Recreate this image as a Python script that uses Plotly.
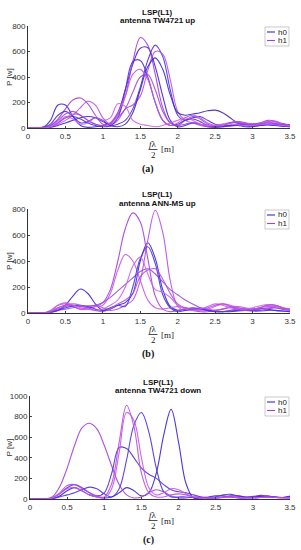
import plotly.graph_objects as go

x_vals = [round(i * 0.1, 1) for i in range(36)]

# ---- (a) antenna TW4721 up ----
a_h0_1 = [0,0,5,60,180,180,90,20,5,10, 20,40,120,300,500,625,630,480,250,60, 10,20,40,30,10,5,10,20,20,10, 10,20,25,20,15,10]
a_h1_1 = [0,0,5,20,70,150,220,235,190,100, 30,40,100,250,520,710,650,420,160,40, 20,60,90,70,30,10,20,40,50,40, 30,40,60,55,35,20]
a_h0_2 = [0,0,0,10,40,80,90,70,40,20, 10,15,30,60,150,320,530,650,560,300, 100,60,80,90,60,30,20,20,30,30, 20,20,25,30,30,25]
a_h1_2 = [0,0,0,10,30,60,100,160,210,180, 80,30,60,150,180,250,450,600,580,380, 130,60,40,20,10,10,20,40,50,30, 20,30,50,50,30,20]
a_h0_3 = [0,0,5,30,100,130,90,40,50,80, 60,20,80,300,520,530,400,200,60,20, 30,60,70,50,20,10,10,15,20,25, 30,30,25,20,15,10]
a_h0_4 = [0,0,0,5,20,40,60,80,90,80, 50,20,10,30,120,300,480,550,460,260, 120,100,110,120,135,140,120,80,40,20, 15,20,30,30,20,15]
a_h1_3 = [0,0,0,10,40,80,110,100,60,30, 20,40,120,250,420,460,380,200,60,20, 40,80,100,80,40,20,20,40,50,40, 30,35,45,40,30,20]
a_h1_4 = [0,0,5,20,60,110,130,100,60,30, 20,30,80,150,280,400,420,300,130,40, 20,30,40,30,20,20,30,40,40,30, 25,30,40,35,25,20]
a_h1_5 = [0,0,0,10,50,90,70,30,40,80, 60,80,190,170,60,30,20,10,20,40, 60,80,60,30,20,20,30,30,25,20, 20,25,30,25,20,15]

# ---- (b) antenna ANN-MS up ----
b_h1_1 = [0,0,0,10,30,50,60,50,40,50, 80,180,400,650,770,700,420,130,30,10, 20,30,20,10,10,20,30,40,40,30, 20,30,40,40,30,20]
b_h1_2 = [0,0,0,20,60,70,50,30,40,60, 40,20,30,60,100,250,560,790,620,250, 50,20,30,40,30,20,30,50,50,40, 30,40,60,60,40,20]
b_h1_3 = [0,0,0,10,40,60,50,30,30,50, 60,150,330,450,400,250,100,40,30,40, 50,40,30,20,30,50,70,60,40,30, 30,40,50,50,40,30]
b_h1_4 = [0,0,0,10,20,30,40,50,55,60, 80,120,170,220,270,320,340,300,240,180, 140,100,70,40,20,10,10,20,30,30, 20,20,30,40,30,20]
b_h0_1 = [0,0,0,5,20,60,130,185,150,70, 20,30,60,80,150,400,540,420,180,50, 20,30,40,30,20,15,10,10,15,20, 25,35,30,20,15,10]
b_h0_2 = [0,0,0,5,20,40,55,60,50,30, 20,40,60,50,200,420,510,380,140,40, 10,20,30,30,20,10,10,15,20,20, 15,15,20,20,15,10]
b_h1_5 = [0,0,0,10,60,80,60,40,30,20, 30,60,100,200,360,430,300,180,160,120, 60,30,20,30,50,70,60,40,30,30, 40,55,65,60,40,20]
b_h1_6 = [0,0,0,10,40,60,70,60,40,20, 10,30,70,100,150,280,330,340,260,150, 70,40,30,30,40,60,70,50,30,20, 30,40,60,60,40,30]

# ---- (c) antenna TW4721 down ----
c_h0_1 = [0,0,0,5,30,80,110,80,40,20, 10,20,60,110,80,30,60,250,620,870, 550,150,10,10,20,30,30,20,10,10, 20,25,20,15,15,25]
c_h0_2 = [0,0,0,5,20,40,60,90,115,100, 50,20,100,380,720,840,650,300,70,20, 20,20,15,10,10,20,40,45,30,20, 25,35,30,20,15,20]
c_h0_3 = [0,0,0,10,50,110,140,110,60,30, 60,250,500,490,400,300,240,200,140,90, 70,60,40,20,10,10,20,30,30,20, 15,20,25,20,15,30]
c_h1_1 = [0,0,0,20,120,300,520,690,735,680, 520,320,140,40,10,20,60,90,70,30, 10,10,20,20,15,10,15,20,20,15, 10,15,20,20,15,10]
c_h1_2 = [0,0,0,10,60,130,140,100,60,30, 20,150,550,910,700,250,60,20,20,40, 50,40,20,10,10,15,20,20,15,10, 10,15,20,15,10,10]
c_h1_3 = [0,0,0,10,50,100,110,80,40,20, 10,100,450,840,760,400,110,40,60,100, 90,50,20,10,10,10,15,20,15,10, 10,15,20,15,10,10]

panels = [
    ("antenna TW4721 up", [("h0", a_h0_1), ("h1", a_h1_1), ("h0", a_h0_2), ("h1", a_h1_2), ("h0", a_h0_3),
                           ("h0", a_h0_4), ("h1", a_h1_3), ("h1", a_h1_4), ("h1", a_h1_5)], [0, 200, 400, 600, 800], 800),
    ("antenna ANN-MS up", [("h0", b_h0_1), ("h1", b_h1_1), ("h1", b_h1_2), ("h1", b_h1_3), ("h1", b_h1_4),
                           ("h0", b_h0_2), ("h1", b_h1_5), ("h1", b_h1_6)], [0, 200, 400, 600, 800], 800),
    ("antenna TW4721 down", [("h0", c_h0_1), ("h1", c_h1_1), ("h0", c_h0_2), ("h0", c_h0_3), ("h1", c_h1_2),
                             ("h1", c_h1_3)], [0, 200, 400, 600, 800, 1000], 1000),
]
x_ticks = [0, 0.5, 1, 1.5, 2, 2.5, 3, 3.5]
x_tick_labels = ["0", "0.5", "1", "1.5", "2", "2.5", "3", "3.5"]
panel_labels = ["(a)", "(b)", "(c)"]

W, H = 301, 550
def px(v): return v / W
def py(v): return 1 - v / H

# pixel geometry of each panel: (left, right, top, bottom)
geom = [(28, 290, 26, 128), (28, 290, 209, 313), (30, 290, 396, 499)]

h0_cols = ["#3b24d8", "#4a34e0", "#5530d4", "#4028c8"]
h1_cols = ["#a63fe0", "#b94ee8", "#c655e6", "#9c48dc", "#cf62ea", "#b050e0"]

fig = go.Figure()
annotations = []
shapes = []
font_s = "Liberation Sans, Arial, sans-serif"
font_serif = "Liberation Serif, DejaVu Serif, serif"

def ann(x, y, text, font, xanchor="center", **kw):
    d = dict(x=px(x), y=py(y), text=text, showarrow=False, xref="paper", yref="paper",
             xanchor=xanchor, yanchor="middle", font=font)
    d.update(kw)
    annotations.append(d)

for k, (title, curves, yt, ymax) in enumerate(panels):
    sfx = "" if k == 0 else str(k + 1)
    i0 = i1 = 0
    for name, ys in curves:
        if name == "h0":
            col = h0_cols[i0 % len(h0_cols)]; i0 += 1
        else:
            col = h1_cols[i1 % len(h1_cols)]; i1 += 1
        fig.add_trace(go.Scatter(x=x_vals, y=ys, mode="lines",
                                 line=dict(color=col, width=1.1, shape="spline", smoothing=1.0),
                                 opacity=0.9, showlegend=False,
                                 xaxis="x" + sfx, yaxis="y" + sfx, hoverinfo="skip"))
    l, r, t, b = geom[k]
    fig.update_layout(**{
        "xaxis" + sfx: dict(domain=[px(l), px(r)], range=[0, 3.5], anchor="y" + sfx, automargin=False,
                            tickvals=x_ticks, ticktext=x_tick_labels, ticks="inside", ticklen=2,
                            showline=True, linecolor="#333", linewidth=0.8, showgrid=False, zeroline=False,
                            tickfont=dict(family=font_s, size=8, color="#333")),
        "yaxis" + sfx: dict(domain=[py(b), py(t)], range=[0, ymax], anchor="x" + sfx, automargin=False,
                            tickvals=yt, ticks="inside", ticklen=2,
                            showline=True, linecolor="#333", linewidth=0.8, showgrid=False, zeroline=False,
                            tickfont=dict(family=font_s, size=8, color="#333")),
    })
    cx = (l + r) / 2 - 2
    ann(cx, t - 14, "<b>LSP(L1)</b>", dict(family=font_s, size=8, color="#111"))
    ann(cx, t - 6, "<b>" + title + "</b>", dict(family=font_s, size=8, color="#111"))
    ann(9, (t + b) / 2, "P [w]", dict(family=font_s, size=8, color="#333"), textangle=-90)
    # x label fraction
    ann(153, b + 16, "<i>f</i>λ", dict(family=font_serif, size=9, color="#222"))
    ann(153, b + 27, "2", dict(family=font_serif, size=9, color="#222"))
    ann(159, b + 21.5, "[m]", dict(family=font_serif, size=9, color="#222"), xanchor="left")
    shapes.append(dict(type="line", xref="paper", yref="paper", x0=px(148.5), x1=px(157.5),
                       y0=py(b + 21.5), y1=py(b + 21.5), line=dict(color="#222", width=0.8)))
    ann(148, b + 41, "<b>" + panel_labels[k] + "</b>", dict(family=font_serif, size=10, color="#111"))
    # legend box
    lt = t + 1
    shapes.append(dict(type="rect", xref="paper", yref="paper", x0=px(265), x1=px(289),
                       y0=py(lt), y1=py(lt + 19), line=dict(color="#bbb", width=0.8), fillcolor="white"))
    for j, (nm, col) in enumerate([("h0", h0_cols[0]), ("h1", h1_cols[0])]):
        yy = lt + 5 + j * 8.5
        shapes.append(dict(type="line", xref="paper", yref="paper", x0=px(267), x1=px(275),
                           y0=py(yy), y1=py(yy), line=dict(color=col, width=1.1)))
        ann(276, yy, nm, dict(family=font_s, size=8, color="#222"), xanchor="left")

fig.update_layout(width=W, height=H, margin=dict(l=0, r=0, t=0, b=0, autoexpand=False),
                  paper_bgcolor="white", plot_bgcolor="white",
                  annotations=annotations, shapes=shapes, showlegend=False)
fig.write_html("out.html", config={"displayModeBar": False},
               post_script="document.body.style.margin='0';document.body.style.overflow='hidden';")
